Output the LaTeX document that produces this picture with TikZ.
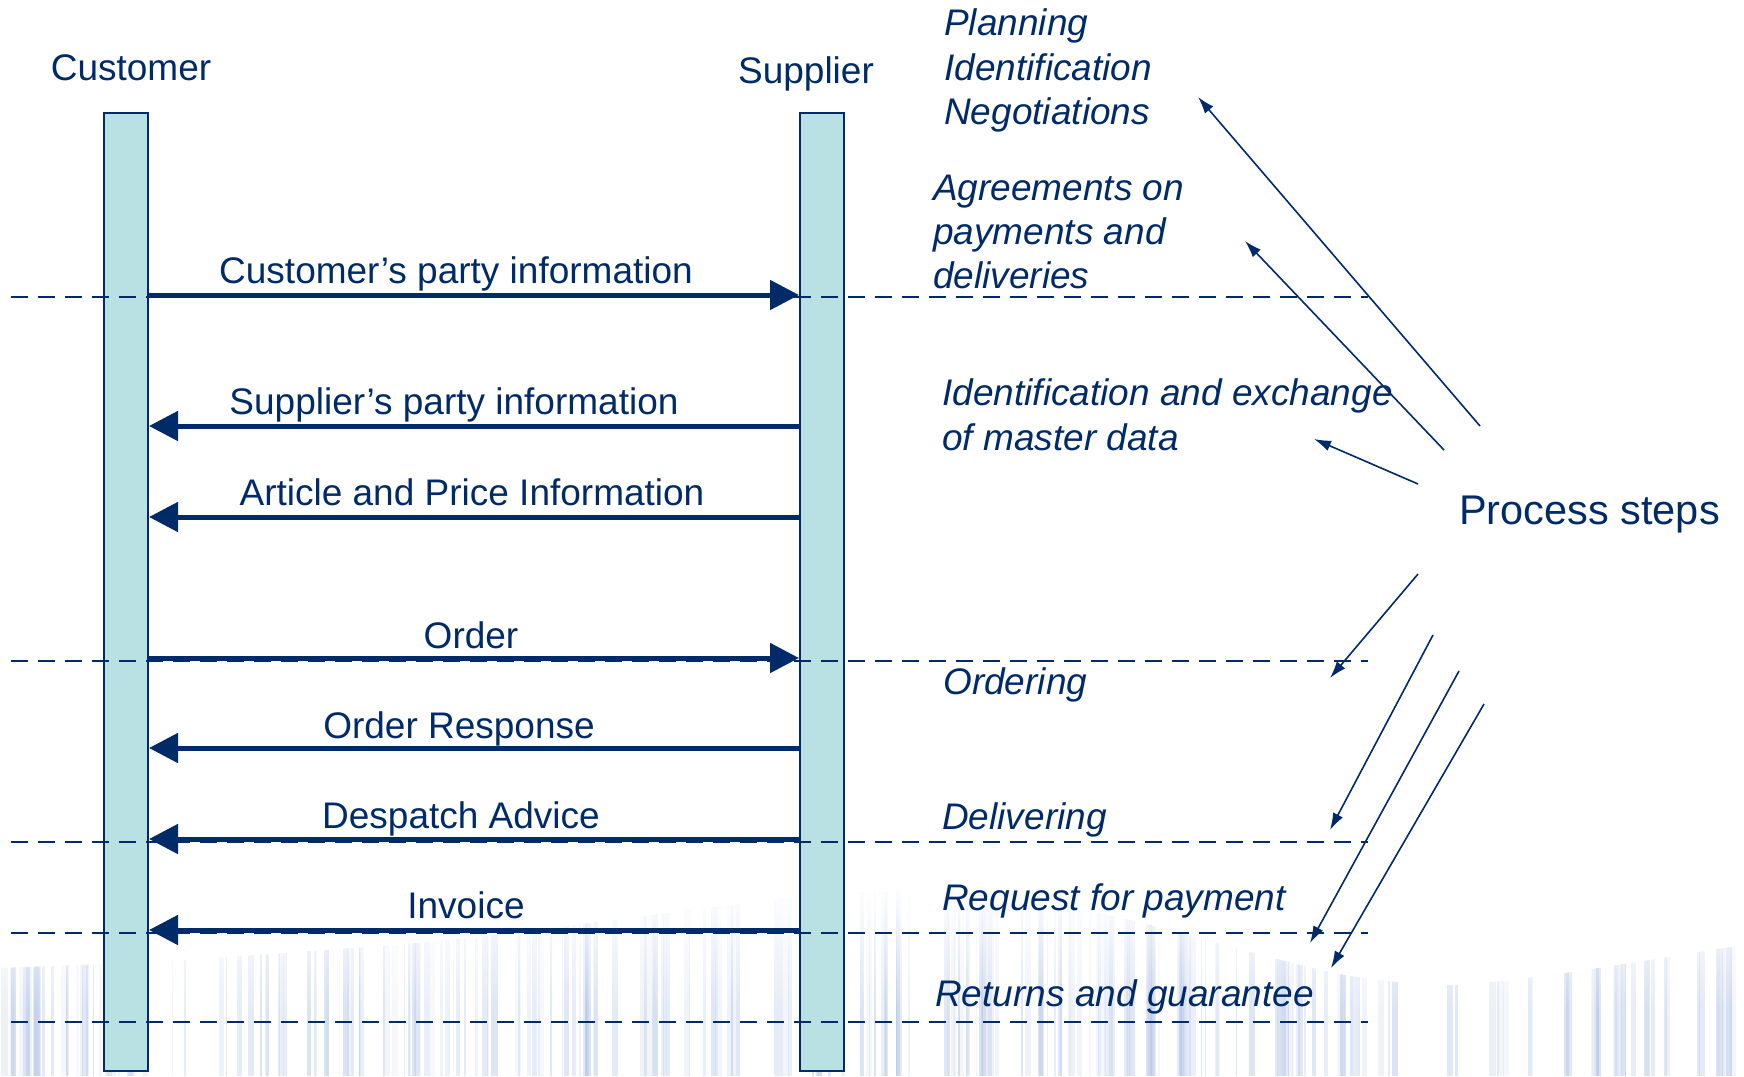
\documentclass[tikz,border=0pt]{standalone}
\usepackage{fontspec}
\setmainfont{Liberation Sans}
\usetikzlibrary{arrows.meta,fadings}
\definecolor{navy}{RGB}{0,42,104}
\definecolor{lane}{RGB}{185,224,227}
\definecolor{wmark}{RGB}{160,182,222}

\begin{document}
\begin{tikzpicture}[x=1pt,y=-1pt,
  lbl/.style={text=navy, inner sep=0pt, font=\fontsize{37}{44}\selectfont},
  phaselabel/.style={lbl, font=\fontsize{37}{44}\selectfont\itshape, anchor=base west},
  msglabel/.style={lbl, anchor=base},
  lifeline/.style={draw=navy, fill=lane, line width=2pt, minimum width=44pt,
    minimum height=958pt, anchor=north west, inner sep=0pt},
  phase/.style={draw=navy, line width=2.2pt, dash pattern=on 17pt off 10pt},
  msg/.style={draw=navy, line width=5pt, -{Triangle[length=29pt,width=29pt]}},
  pointer/.style={draw=navy, line width=1.6pt, -{Latex[length=17pt,width=11pt]}},
]
\useasboundingbox (0,0) rectangle (1744,1076);

% faint barcode ribbon along the lower edge
\begin{scope}
  \clip plot[smooth] coordinates {(0,968) (150,962) (300,952) (450,940) (600,922)
    (750,903) (870,893) (1000,897) (1120,918) (1250,952) (1350,976) (1450,985)
    (1550,975) (1650,960) (1744,945)} -- (1744,1076) -- (0,1076) -- cycle;
  \pgfmathsetseed{11}
  \foreach \k in {1,...,260} {
    \pgfmathsetmacro\sx{rnd*1744}
    \pgfmathsetmacro\sw{1+rnd*6}
    \pgfmathsetmacro\so{0.1+rnd*0.28}
    \fill[wmark, opacity=\so] (\sx,880) rectangle ++(\sw,196);
  }
  % soften the upper edge of the ribbon
  \fill[white, path fading=south] (0,885) rectangle (1744,1010);
\end{scope}

% lifelines
\node[lifeline] (cbar) at (103,112) {};
\node[lifeline] (sbar) at (799,112) {};
\node[lbl, anchor=base] (customer) at (131,80) {Customer};
\node[lbl, anchor=base] (supplier) at (806,83) {Supplier};

% phase separators
\foreach \y in {297,661,842,933,1022}
  \draw[phase] (11,\y) -- (1368,\y);

% messages
\draw[msg] (cbar.east |- 0,295) -- (sbar.west |- 0,295);
\draw[msg] (sbar.west |- 0,426) -- (cbar.east |- 0,426);
\draw[msg] (sbar.west |- 0,517) -- (cbar.east |- 0,517);
\draw[msg] (cbar.east |- 0,658) -- (sbar.west |- 0,658);
\draw[msg] (sbar.west |- 0,748) -- (cbar.east |- 0,748);
\draw[msg] (sbar.west |- 0,839) -- (cbar.east |- 0,839);
\draw[msg] (sbar.west |- 0,930) -- (cbar.east |- 0,930);

\node[msglabel] (m1) at (456,283) {Customer’s party information};
\node[msglabel] (m2) at (454,414) {Supplier’s party information};
\node[msglabel] (m3) at (472,505) {Article and Price Information};
\node[msglabel] (m4) at (471,648) {Order};
\node[msglabel] (m5) at (459,738) {Order Response};
\node[msglabel] (m6) at (461,828) {Despatch Advice};
\node[msglabel] (m7) at (466,918) {Invoice};

% process phases
\node[phaselabel] (ph1a) at (944,35) {Planning};
\node[phaselabel] (ph1b) at (944,80) {Identification};
\node[phaselabel] (ph1c) at (944,124) {Negotiations};
\node[phaselabel] (ph2a) at (933,200) {Agreements on};
\node[phaselabel] (ph2b) at (933,244) {payments and};
\node[phaselabel] (ph2c) at (933,288) {deliveries};
\node[phaselabel] (ph3a) at (942,405) {Identification and exchange};
\node[phaselabel] (ph3b) at (942,450) {of master data};
\node[phaselabel] (ph4) at (943,694) {Ordering};
\node[phaselabel] (ph5) at (942,829) {Delivering};
\node[phaselabel] (ph6) at (942,910) {Request for payment};
\node[phaselabel] (ph7) at (935,1006) {Returns and guarantee};

\node[lbl, font=\fontsize{41.5}{48}\selectfont, anchor=base west] (steps) at (1459,524) {Process steps};

% pointers from the process steps to each phase
\coordinate (p1s) at (1480,426); \coordinate (p1e) at (1198,97);
\coordinate (p2s) at (1444,450); \coordinate (p2e) at (1245,241);
\coordinate (p3s) at (1418,484); \coordinate (p3e) at (1314,439);
\coordinate (p4s) at (1418,574); \coordinate (p4e) at (1330,678);
\coordinate (p5s) at (1433,635); \coordinate (p5e) at (1330,830);
\coordinate (p6s) at (1459,671); \coordinate (p6e) at (1310,943);
\coordinate (p7s) at (1484,704); \coordinate (p7e) at (1331,968);
\foreach \i in {1,...,7}
  \draw[pointer] (p\i s) -- (p\i e);

\end{tikzpicture}
\end{document}
